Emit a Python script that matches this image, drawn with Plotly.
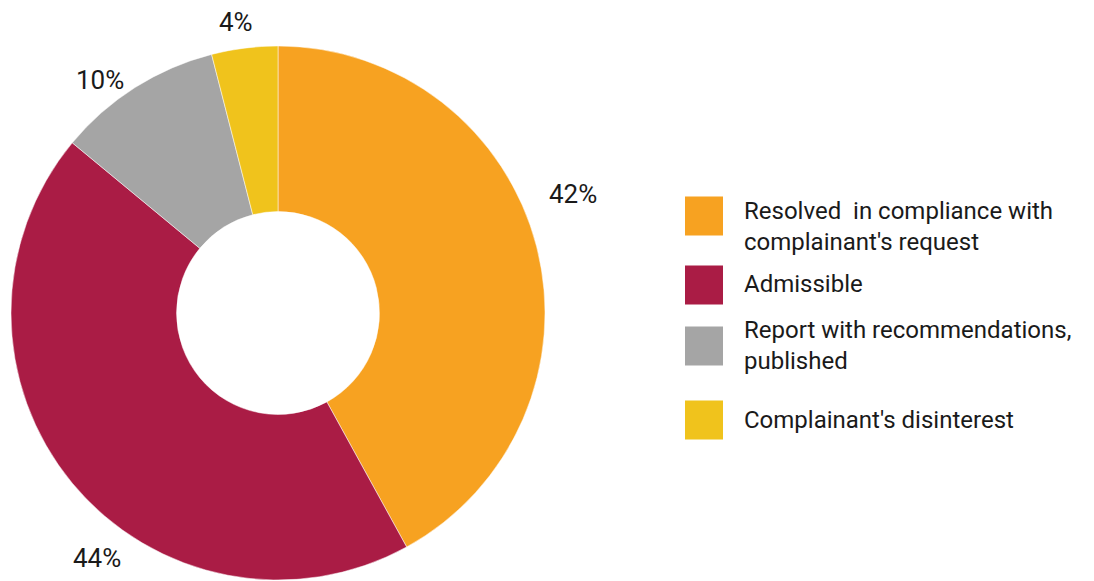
import math
import plotly.graph_objects as go

labels = ["Resolved  in compliance with<br>complainant's request", "Admissible",
          "Report with recommendations,<br>published", "Complainant's disinterest"]
values = [42, 44, 10, 4]
colors = ["#F7A221", "#AA1C45", "#A5A5A5", "#F0C31C"]

W, H = 1094, 581
cx, cy, R = 278, 313, 267

fig = go.Figure(go.Pie(
    labels=labels, values=values, hole=0.38, sort=False, direction="clockwise",
    rotation=0, marker=dict(colors=colors, line=dict(color="white", width=0.5)),
    textinfo="none", hoverinfo="label+percent", showlegend=False,
    domain=dict(x=[(cx - R) / W, (cx + R) / W], y=[(H - cy - R) / H, (H - cy + R) / H]),
))

# percentage labels placed outside, derived from slice mid-angles
angle_adj = [-7.5, -14, -5, -1]   # degrees shift (layout tweak)
radius_fac = [1.19, 1.14, 1.10, 1.10]
total = sum(values)
cum = 0
ann = []
for i, v in enumerate(values):
    mid = (cum + v / 2) / total * 360 + angle_adj[i]
    cum += v
    r = R * radius_fac[i]
    x = cx + r * math.sin(math.radians(mid))
    y = cy - r * math.cos(math.radians(mid))
    ann.append(dict(x=x / W, y=1 - y / H, xref="paper", yref="paper",
                    text=f"{round(v / total * 100)}%", showarrow=False,
                    font=dict(size=26, color="#1a1a1a", family="Roboto"),
                    xanchor="center", yanchor="middle"))

# custom legend
sq_centers = [216, 285, 346, 420]
txt_centers = [226, 284, 345, 420]
shapes = []
for i in range(len(labels)):
    c = sq_centers[i]
    shapes.append(dict(type="rect", xref="paper", yref="paper",
                       x0=685 / W, x1=723 / W, y0=1 - (c + 19.5) / H, y1=1 - (c - 19.5) / H,
                       fillcolor=colors[i], line=dict(width=0)))
    ann.append(dict(x=742 / W, y=1 - txt_centers[i] / H, xref="paper", yref="paper",
                    text=labels[i], showarrow=False, align="left",
                    font=dict(size=24, color="#1a1a1a", family="Roboto"),
                    xanchor="left", yanchor="middle"))

fig.update_layout(width=W, height=H, margin=dict(l=0, r=0, t=0, b=0),
                  paper_bgcolor="white", plot_bgcolor="white",
                  annotations=ann, shapes=shapes)
fig.write_html("out.html", config={"displayModeBar": False},
               post_script="document.body.style.margin='0px';")
